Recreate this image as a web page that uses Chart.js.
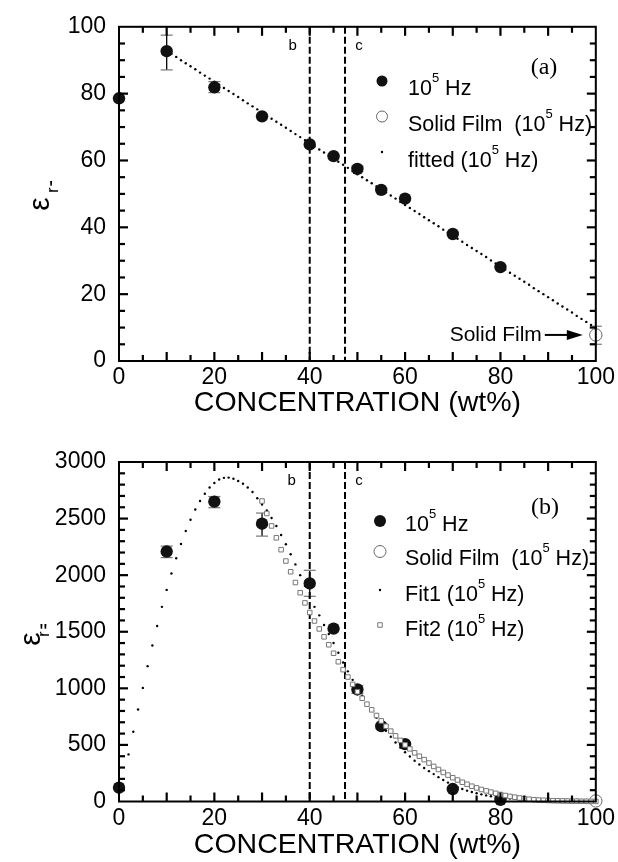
<!DOCTYPE html>
<html>
<head>
<meta charset="utf-8">
<script src="https://cdn.jsdelivr.net/npm/chart.js@4.4.0/dist/chart.umd.min.js"></script>
<style>
html,body{margin:0;padding:0;background:#fff;}
#wrap{position:relative;width:618px;height:862px;}
canvas{position:absolute;left:0;}
#cA{top:0;}
#cB{top:420px;}
</style>
</head>
<body>
<div id="wrap">
  <canvas id="cA" width="618" height="420"></canvas>
  <canvas id="cB" width="618" height="442"></canvas>
</div>
<script>
const SANS = '"Liberation Sans", Arial, Helvetica, sans-serif';
const SERIF = '"Liberation Serif", "Times New Roman", serif';

// ---- measured points, both panels share the concentration grid ----
const conc = [0, 10, 20, 30, 40, 45, 50, 55, 60, 70, 80];
const filmConc = [100];

// panel (a): real permittivity
const epsReal = [78.6, 92.7, 81.9, 73.2, 64.8, 61.3, 57.5, 51.2, 48.6, 38.0, 28.1];
const filmReal = [7.8];
const errConcA = [10, 20, 50, 100];
const errLoA = [87.1, 80.3, 56.6, 5.0];
const errHiA = [97.5, 83.6, 58.4, 10.4];
const fitConcA = [10,11,12,13,14,15,16,17,18,19,20,21,22,23,24,25,26,27,28,29,30,31,32,33,34,35,36,37,38,39,
  40,41,42,43,44,45,46,47,48,49,50,51,52,53,54,55,56,57,58,59,60,61,62,63,64,65,66,67,68,69,
  70,71,72,73,74,75,76,77,78,79,80,81,82,83,84,85,86,87,88,89,90,91,92,93,94,95,96,97,98,99,100];
const fitReal = [92.8,91.9,91.0,90.0,89.1,88.2,87.3,86.3,85.4,84.5,
  83.6,82.7,81.7,80.8,79.9,79.0,78.0,77.1,76.2,75.3,
  74.4,73.4,72.5,71.6,70.7,69.8,68.8,67.9,67.0,66.1,
  65.1,64.2,63.3,62.4,61.5,60.5,59.6,58.7,57.8,56.9,
  55.9,55.0,54.1,53.2,52.2,51.3,50.4,49.5,48.6,47.6,
  46.7,45.8,44.9,44.0,43.0,42.1,41.2,40.3,39.3,38.4,
  37.5,36.6,35.7,34.7,33.8,32.9,32.0,31.1,30.1,29.2,
  28.3,27.4,26.4,25.5,24.6,23.7,22.8,21.8,20.9,20.0,
  19.1,18.2,17.2,16.3,15.4,14.5,13.5,12.6,11.7,10.8,9.9];

// panel (b): imaginary permittivity
const epsImag = [122, 2209, 2650, 2455, 1927, 1528, 990, 666, 507, 110, 15];
const filmImag = [5];
const errConcB = [10, 20, 30, 40, 50];
const errLoB = [2155, 2596, 2345, 1813, 955];
const errHiB = [2257, 2695, 2549, 2043, 1025];
const fit1Conc = [2,3,4,5,6,7,8,9,10,11,12,13,14,15,16,17,18,19,20,21,22,23,24,25,26,27,28,29,30,31,
  32,33,34,35,36,37,38,39,40,41,42,43,44,45,46,47,48,49,50,51,52,53,54,55,56,57,58,59,60,61,
  62,63,64,65,66,67,68,69,70,71,72,73,74,75,76,77,78,79,80,81,82,83,84,85,86,87,88,89,90,91,
  92,93,94,95,96,97,98,99,100];
const fit1Imag = [416,616,813,1004,1196,1378,1551,1720,1870,2015,
  2150,2275,2390,2490,2580,2655,2720,2775,2815,2845,
  2860,2862,2852,2832,2808,2775,2735,2680,2625,2572,
  2505,2435,2355,2273,2185,2095,2000,1905,1810,1720,
  1645,1560,1480,1400,1315,1228,1150,1075,1005,935,
  868,802,740,680,625,572,522,477,435,397,
  360,327,296,268,242,215,190,167,146,127,
  110,96,84,73,63,54,46,39,33,29,
  26,24,22,21,20,19,18,18,17,17,
  16,16,15,15,15,14,14,14,14];
const fit2Conc = [30,31,32,33,34,35,36,37,38,39,40,41,42,43,44,45,46,47,48,49,50,51,52,53,54,55,56,57,58,59,
  60,61,62,63,64,65,66,67,68,69,70,71,72,73,74,75,76,77,78,79,80,81,82,83,84,85,86,87,88,89,
  90,91,92,93,94,95,96,97,98,99,100];
const fit2Imag = [2655,2545,2435,2330,2225,2125,2030,1935,1845,1755,
  1670,1595,1525,1455,1385,1310,1235,1165,1100,1035,
  970,912,860,810,760,712,665,622,580,540,
  500,465,430,400,370,340,310,283,257,233,
  210,190,170,152,135,120,106,94,83,72,
  62,53,45,38,31,25,20,16,13,11,
  9,7,6,5,4,3,3,2,2,1,1];

// phase boundaries, tick labels and tick spacing
const phaseBounds = [40, 47.4];
const phaseNames = ['b', 'c'];
const xTickVals = [0, 20, 40, 60, 80, 100];
const yTickValsA = [0, 20, 40, 60, 80, 100];
const yTickValsB = [0, 500, 1000, 1500, 2000, 2500, 3000];
const xMinorTicks = [5, 10, 15, 20, 25, 30, 35, 40, 45, 50, 55, 60, 65, 70, 75, 80, 85, 90, 95];
const yMinorTicksA = [5, 10, 15, 20, 25, 30, 35, 40, 45, 50, 55, 60, 65, 70, 75, 80, 85, 90, 95];
const yMinorTicksB = [100, 200, 300, 400, 500, 600, 700, 800, 900, 1000, 1100, 1200, 1300, 1400, 1500,
  1600, 1700, 1800, 1900, 2000, 2100, 2200, 2300, 2400, 2500, 2600, 2700, 2800, 2900];

const pts = (xs, ys) => xs.map((x, i) => ({x, y: ys[i]}));

const styles = {
  main: {pointStyle: 'circle', pointRadius: 6.2, backgroundColor: '#111', borderColor: '#111', borderWidth: 0},
  film: {pointStyle: 'circle', pointRadius: 6.2, backgroundColor: '#fff', borderColor: '#666', borderWidth: 1},
  dot: {pointStyle: 'circle', pointRadius: 1.2, backgroundColor: '#000', borderColor: '#000', borderWidth: 0},
  sq: {pointStyle: 'rect', pointRadius: 3.2, backgroundColor: '#fff', borderColor: '#777', borderWidth: 1}
};
function ds(label, data, st, legendR) {
  return Object.assign({label, data, clip: false, showLine: false, pointHoverRadius: 0, legendR}, st);
}

function seg(ctx, x1, y1, x2, y2) { ctx.beginPath(); ctx.moveTo(x1, y1); ctx.lineTo(x2, y2); ctx.stroke(); }

// text with "^5" style superscripts
function richText(ctx, str, x, y, size) {
  const parts = str.split(/\^(\d)/);
  let cx = x;
  parts.forEach((p, i) => {
    if (!p) return;
    const sup = i % 2 === 1;
    ctx.font = `${sup ? Math.round(size * 0.6) : size}px ${SANS}`;
    ctx.fillText(p, cx, sup ? y - size * 0.5 : y);
    cx += ctx.measureText(p).width;
  });
}

function marker(ctx, d, x, y, r) {
  ctx.fillStyle = d.backgroundColor; ctx.strokeStyle = d.borderColor; ctx.lineWidth = d.borderWidth || 1;
  ctx.beginPath();
  if (d.pointStyle === 'rect') { const s = Math.SQRT1_2 * r; ctx.rect(x - s, y - s, 2 * s, 2 * s); }
  else ctx.arc(x, y, r, 0, Math.PI * 2);
  ctx.fill();
  if (d.borderWidth > 0) ctx.stroke();
}

// inward ticks on all four sides of the frame
function drawTicks(ctx, a, xs, ys, cfg) {
  ctx.strokeStyle = '#000'; ctx.lineWidth = 2.2;
  cfg.xMinor.forEach(v => {
    const px = xs.getPixelForValue(v), len = v % cfg.xMajor === 0 ? 9 : 6;
    seg(ctx, px, a.bottom, px, a.bottom - len);
    seg(ctx, px, a.top, px, a.top + len);
  });
  cfg.yMinor.forEach(v => {
    const py = ys.getPixelForValue(v), len = v % cfg.yMajor === 0 ? 9 : 6;
    seg(ctx, a.left, py, a.left + len, py);
    seg(ctx, a.right, py, a.right - len, py);
  });
}

function decor(cfg) {
  return {
    id: 'decor',
    beforeDatasetsDraw(chart) {
      const {ctx, chartArea: a, scales: {x, y}} = chart;
      ctx.save();
      ctx.strokeStyle = '#000'; ctx.lineWidth = 2; ctx.setLineDash([7, 3]);
      phaseBounds.forEach(v => { const px = x.getPixelForValue(v); seg(ctx, px, a.top, px, a.bottom); });
      ctx.setLineDash([]);
      cfg.err.conc.forEach((c, i) => {
        const px = x.getPixelForValue(c), lo = y.getPixelForValue(cfg.err.lo[i]), hi = y.getPixelForValue(cfg.err.hi[i]);
        ctx.strokeStyle = '#000'; ctx.lineWidth = 1.3; seg(ctx, px, lo, px, hi);
        ctx.strokeStyle = '#777'; ctx.lineWidth = 1.2;
        seg(ctx, px - 6, lo, px + 6, lo); seg(ctx, px - 6, hi, px + 6, hi);
      });
      ctx.restore();
    },
    afterDraw(chart) {
      const {ctx, chartArea: a, scales: {x, y}} = chart;
      ctx.save();
      ctx.strokeStyle = '#000'; ctx.lineWidth = 2;
      ctx.strokeRect(a.left, a.top, a.right - a.left, a.bottom - a.top);
      drawTicks(ctx, a, x, y, cfg);
      ctx.fillStyle = '#000'; ctx.textBaseline = 'middle';
      // phase labels
      ctx.font = `15px ${SANS}`; ctx.textAlign = 'center';
      phaseBounds.forEach((v, i) => ctx.fillText(phaseNames[i], x.getPixelForValue(v) + cfg.nameOff[i], a.top + 19));
      // panel tag
      ctx.font = `24px ${SERIF}`;
      ctx.fillText(cfg.tag, cfg.tagX, cfg.tagY);
      // y title: epsilon with r and primes
      const t = cfg.yTitle;
      [['\u03b5', t.ex, t.ey, 30], ['r', t.rx, t.ry, 16]].forEach(([s, gx, gy, sz]) => {
        ctx.save(); ctx.translate(gx, gy); ctx.rotate(-Math.PI / 2);
        ctx.font = `${sz}px ${SANS}`; ctx.fillText(s, 0, 0); ctx.restore();
      });
      ctx.textBaseline = 'alphabetic'; ctx.font = `22px ${SANS}`;
      ctx.fillText(t.prime, t.px, t.py);
      // legend
      ctx.textAlign = 'left'; ctx.textBaseline = 'middle';
      cfg.legend.rows.forEach(row => {
        const d = chart.data.datasets[row.ds];
        marker(ctx, d, cfg.legend.mx, row.my, d.legendR);
        ctx.fillStyle = '#000';
        richText(ctx, d.label, cfg.legend.tx, row.ty, 21.5);
      });
      // arrow pointing at the solid film value
      if (cfg.filmArrow) {
        const tipX = x.getPixelForValue(filmConc[0]) - 13, ay = y.getPixelForValue(cfg.filmArrow[0]);
        ctx.font = `21px ${SANS}`; ctx.textAlign = 'right'; ctx.fillStyle = '#000';
        ctx.fillText('Solid Film', tipX - 41, ay);
        ctx.strokeStyle = '#000'; ctx.lineWidth = 2; seg(ctx, tipX - 38, ay, tipX - 14, ay);
        ctx.beginPath(); ctx.moveTo(tipX, ay); ctx.lineTo(tipX - 16, ay - 5); ctx.lineTo(tipX - 16, ay + 5); ctx.closePath(); ctx.fill();
      }
      ctx.restore();
    }
  };
}

const tickFont = {family: SANS, size: 23};

function axisOpts(min, max, vals, size, extra) {
  return Object.assign({
    type: 'linear', min, max,
    afterBuildTicks: s => { s.ticks = vals.map(v => ({value: v})); },
    grid: {display: false, drawTicks: false},
    border: {display: false},
    afterFit: s => { if (s.isHorizontal()) s.height = size; else s.width = size; }
  }, extra);
}

function makeChart(id, datasets, yMax, yVals, pad, xH, cfg) {
  return new Chart(document.getElementById(id), {
    type: 'scatter',
    data: {datasets},
    options: {
      responsive: false, animation: false, devicePixelRatio: 1,
      layout: {padding: pad},
      events: [],
      plugins: {legend: {display: false}, tooltip: {enabled: false}},
      scales: {
        x: axisOpts(0, 100, xTickVals, xH, {
          ticks: {color: '#000', font: tickFont, maxRotation: 0, autoSkip: false, padding: 3, callback: v => String(v)},
          title: {display: true, text: 'CONCENTRATION (wt%)', color: '#000', font: {family: SANS, size: 28.5}, padding: {top: 0, bottom: 0}}
        }),
        y: axisOpts(0, yMax, yVals, 119, {
          ticks: {color: '#000', font: tickFont, autoSkip: false, padding: 13, callback: v => String(v)}
        })
      }
    },
    plugins: [decor(cfg)]
  });
}

makeChart('cA', [
  ds('10^5 Hz', pts(conc, epsReal), styles.main, 5.5),
  ds('Solid Film  (10^5 Hz)', pts(filmConc, filmReal), styles.film, 5.5),
  ds('fitted (10^5 Hz)', pts(fitConcA, fitReal), styles.dot, 1.2)
], 100, yTickValsA, {top: 24.5, right: 22, left: 0, bottom: 0}, 59, {
  err: {conc: errConcA, lo: errLoA, hi: errHiA},
  xMinor: xMinorTicks, xMajor: 10, yMinor: yMinorTicksA, yMajor: 20,
  nameOff: [-17, 14], tag: '(a)', tagX: 544, tagY: 68,
  yTitle: {ex: 41, ey: 204, rx: 53.5, ry: 190, prime: "'", px: 51, py: 196},
  legend: {mx: 382, tx: 408, rows: [{ds: 0, my: 81, ty: 89}, {ds: 1, my: 116.5, ty: 125}, {ds: 2, my: 152, ty: 161}]},
  filmArrow: filmReal
});

makeChart('cB', [
  ds('Fit2 (10^5 Hz)', pts(fit2Conc, fit2Imag), styles.sq, 3.2),
  ds('10^5 Hz', pts(conc, epsImag), styles.main, 6),
  ds('Solid Film  (10^5 Hz)', pts(filmConc, filmImag), styles.film, 6),
  ds('Fit1 (10^5 Hz)', pts(fit1Conc, fit1Imag), styles.dot, 1.2)
], 3000, yTickValsB, {top: 42, right: 22, left: 0, bottom: 0}, 60.5, {
  err: {conc: errConcB, lo: errLoB, hi: errHiB},
  xMinor: xMinorTicks, xMajor: 10, yMinor: yMinorTicksB, yMajor: 500,
  nameOff: [-18, 14], tag: '(b)', tagX: 545, tagY: 88,
  yTitle: {ex: 32, ey: 219, rx: 45, ry: 214, prime: '"', px: 43.5, py: 219},
  legend: {mx: 380, tx: 405, rows: [{ds: 1, my: 101, ty: 105}, {ds: 2, my: 131.5, ty: 139}, {ds: 3, my: 170, ty: 175}, {ds: 0, my: 205, ty: 210}]}
});
</script>
</body>
</html>
